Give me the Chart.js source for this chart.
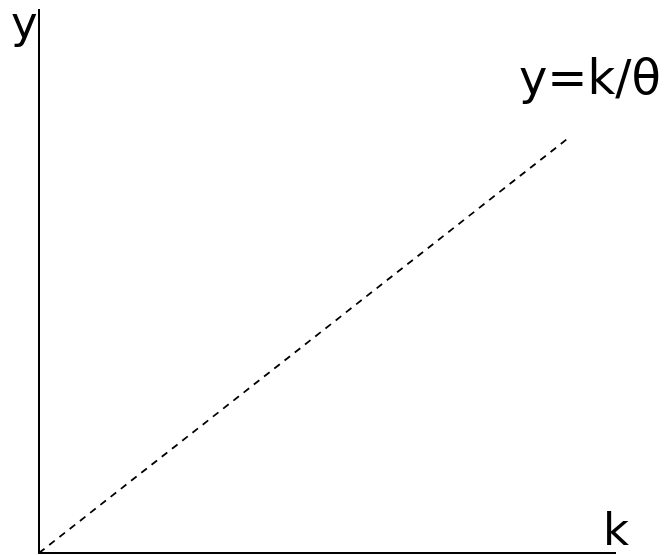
<!DOCTYPE html>
<html>
<head>
<meta charset="utf-8">
<script src="https://cdn.jsdelivr.net/npm/chart.js@4"></script>
<style>
  body { margin: 0; background: #fff; }
  canvas { display: block; }
</style>
</head>
<body>
<canvas id="grafica" width="667" height="555"></canvas>
<script>
// valores
const kValues = [0, 92];
const yValues = [0, 76.5];
const xLabel = 'k';
const yLabel = 'y';
const lineLabel = 'y=k/θ';

const etiquetas = {
    id: 'etiquetas',
    afterDraw(chart) {
        const ctx = chart.ctx;
        const area = chart.chartArea;
        const xs = chart.scales.x;
        const ys = chart.scales.y;
        ctx.save();
        ctx.fillStyle = '#000';
        ctx.font = '45px "DejaVu Sans"';
        ctx.textBaseline = 'alphabetic';
        ctx.textAlign = 'left';
        // eje y
        ctx.fillText(yLabel, area.left - 28, area.top + 28);
        // eje k
        ctx.fillText(xLabel, area.right - 12, area.bottom - 8);
        // etiqueta de la recta
        const last = kValues.length - 1;
        const px = xs.getPixelForValue(kValues[last]);
        const py = ys.getPixelForValue(yValues[last]);
        ctx.font = '48px "DejaVu Sans"';
        ctx.fillText(lineLabel, px - 50, py - 44);
        ctx.restore();
    }
};

new Chart(document.getElementById('grafica').getContext('2d'), {
    type: 'scatter',
    data: {
        datasets: [{
            data: kValues.map((k, i) => ({ x: k, y: yValues[i] })),
            showLine: true,
            borderColor: '#000',
            borderWidth: 1.8,
            borderDash: [7, 6],
            pointRadius: 0,
            fill: false
        }]
    },
    options: {
        responsive: false,
        animation: false,
        layout: { padding: { left: 39, top: 10, right: 52, bottom: 2 } },
        plugins: { legend: { display: false }, tooltip: { enabled: false } },
        scales: {
            x: {
                min: 0, max: 100,
                ticks: { display: false },
                grid: { display: false, drawTicks: false, tickLength: 0 },
                border: { display: true, color: '#000', width: 2 }
            },
            y: {
                min: 0, max: 100,
                ticks: { display: false },
                grid: { display: false, drawTicks: false, tickLength: 0 },
                border: { display: true, color: '#000', width: 2 }
            }
        }
    },
    plugins: [etiquetas]
});
</script>
</body>
</html>
